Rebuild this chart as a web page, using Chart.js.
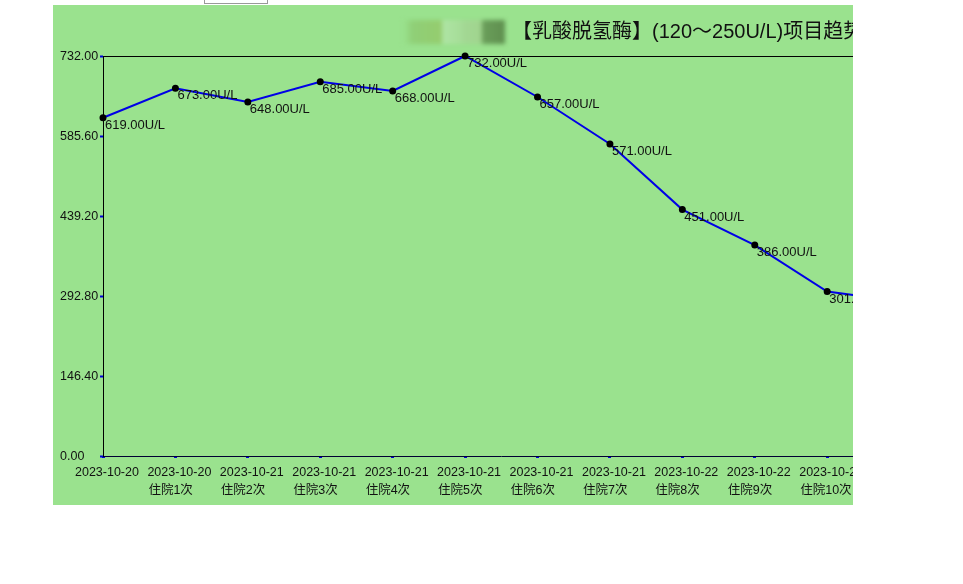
<!DOCTYPE html>
<html>
<head>
<meta charset="utf-8">
<script src="https://cdn.jsdelivr.net/npm/chart.js@4.4.0/dist/chart.umd.min.js"></script>
<style>
    body { margin: 0; background: #fff; font-family: "Liberation Sans", Arial, "Noto Sans CJK SC", sans-serif; }
    #topInput { position: absolute; left: 204px; top: -16px; width: 62px; height: 18px; border: 1px solid #999; background: #fff; }
    #panel { position: absolute; left: 53px; top: 5px; width: 800px; height: 500px; overflow: hidden; background: #9ae28e; }
    #chartBox { position: absolute; left: 0; top: 0; width: 900px; height: 500px; }
    #blurName { position: absolute; left: 350px; top: 15px; width: 102px; height: 24px; filter: blur(2px);
        background: linear-gradient(90deg, #9ae28e 0, #8fcf77 10px, #95cc6e 38px, #aee4a4 40px, #a6dd98 58px, #a3d894 60px, #a0d48e 78px, #6a9e5a 80px, #5f8f4f 102px); }
    #title { position: absolute; left: 459px; top: 10px; white-space: nowrap; font-size: 20px; color: #111;
        font-family: "Liberation Sans", Arial, "Noto Sans CJK SC", sans-serif; }
</style>
</head>
<body>
<div id="topInput"></div>
<div id="panel">
    <div id="chartBox"><canvas id="trendChart" width="900" height="500"></canvas></div>
    <div id="blurName"></div>
    <div id="title">【乳酸脱氢酶】(120～250U/L)项目趋势图</div>
</div>
<script>
var dates = ['2023-10-20', '2023-10-20', '2023-10-21', '2023-10-21', '2023-10-21', '2023-10-21',
    '2023-10-21', '2023-10-21', '2023-10-22', '2023-10-22', '2023-10-22', '2023-10-22'];
var visits = ['', '住院1次', '住院2次', '住院3次', '住院4次', '住院5次',
    '住院6次', '住院7次', '住院8次', '住院9次', '住院10次', '住院11次'];
var ldhValues = [619, 673, 648, 685, 668, 732, 657, 571, 451, 386, 301, 283];
var yTicks = [0, 146.4, 292.8, 439.2, 585.6, 732];
var unit = 'U/L';

var labels = dates.map(function (d, i) {
    return visits[i] ? [d, visits[i]] : [d];
});

// value text under each point, left-aligned y labels and two line x labels
var textPlugin = {
    id: 'textPlugin',
    afterDraw: function (chart) {
        var ctx = chart.ctx;
        var meta = chart.getDatasetMeta(0);
        var xs = chart.scales.x;
        var ys = chart.scales.y;
        ctx.save();
        ctx.fillStyle = '#111';
        ctx.textAlign = 'left';
        ctx.textBaseline = 'top';
        ctx.font = '13px "Liberation Sans", Arial, sans-serif';
        meta.data.forEach(function (pt, i) {
            ctx.fillText(ldhValues[i].toFixed(2) + unit, pt.x + 2, pt.y + 1);
        });
        ctx.font = '12.5px "Liberation Sans", Arial, "Noto Sans CJK SC", sans-serif';
        var top = xs.top + 10;
        labels.forEach(function (lines, i) {
            var x = xs.getPixelForTick(i) - 28;
            ctx.fillText(lines[0], x, top);
            if (lines[1]) ctx.fillText(lines[1], x + 1, top + 18);
        });
        ctx.textBaseline = 'middle';
        yTicks.forEach(function (v) {
            ctx.fillText(v.toFixed(2), ys.left + 7, ys.getPixelForValue(v) + 1);
        });
        ctx.restore();
    }
};

var ctx = document.getElementById('trendChart').getContext('2d');
new Chart(ctx, {
    type: 'line',
    data: {
        labels: labels,
        datasets: [{
            label: '乳酸脱氢酶',
            data: ldhValues,
            borderColor: '#0000e6',
            borderWidth: 2,
            pointBackgroundColor: '#000',
            pointBorderColor: '#000',
            pointRadius: 2.5,
            tension: 0,
            clip: false
        }]
    },
    options: {
        responsive: false,
        animation: false,
        devicePixelRatio: 1,
        layout: { padding: { top: 51, right: 53.4, left: 0, bottom: 0 } },
        plugins: {
            legend: { display: false },
            title: { display: false },
            tooltip: { enabled: false }
        },
        scales: {
            x: {
                offset: false,
                afterFit: function (scale) { scale.height = 49; },
                border: { color: '#000033', width: 1 },
                grid: { drawOnChartArea: false, tickLength: 2, tickColor: '#0000dd', tickWidth: 3 },
                ticks: { display: false, autoSkip: false }
            },
            y: {
                min: 0,
                max: 732,
                afterFit: function (scale) { scale.width = 50; },
                afterBuildTicks: function (scale) {
                    scale.ticks = yTicks.map(function (v) { return { value: v }; });
                },
                border: { color: '#000', width: 1 },
                grid: {
                    drawOnChartArea: true,
                    tickLength: 3,
                    tickWidth: 2,
                    tickColor: '#0000dd',
                    color: function (c) { return c.tick && c.tick.value === 732 ? '#000' : 'rgba(0,0,0,0)'; }
                },
                ticks: { display: false }
            }
        }
    },
    plugins: [textPlugin]
});
</script>
</body>
</html>
